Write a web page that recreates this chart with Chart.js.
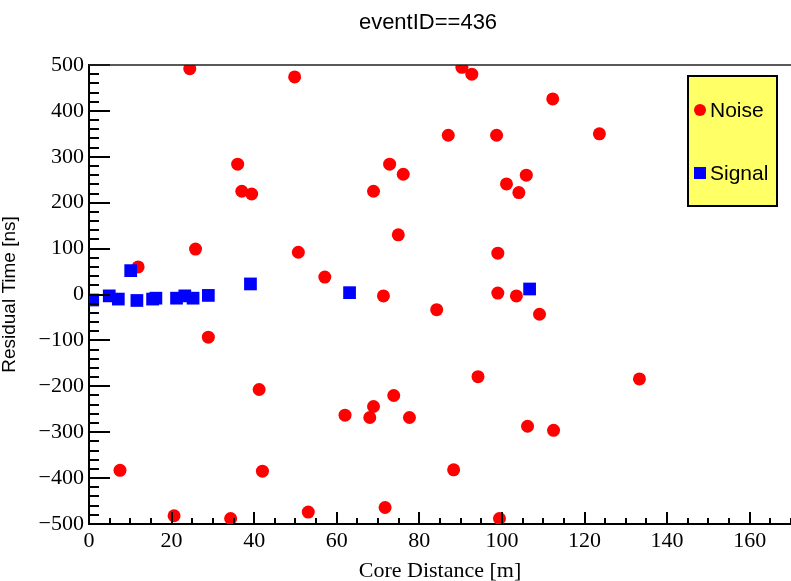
<!DOCTYPE html>
<html>
<head>
<meta charset="utf-8">
<script src="https://cdn.jsdelivr.net/npm/chart.js@4"></script>
<style>
  body { margin: 0; background: #fff; }
  #wrap { width: 791px; height: 581px; }
</style>
</head>
<body>
<div id="wrap"><canvas id="myChart"></canvas></div>
<script>
// datos
var titulo = 'eventID==436';

var noiseX = [24.4, 49.8, 90.3, 92.7, 112.3, 123.6, 87.0, 98.7, 36.0, 37.0, 39.4, 72.8, 76.1, 68.9,
  101.1, 105.9, 104.1, 74.9, 25.8, 50.7, 99.0, 11.9, 57.1, 71.3, 99.0, 103.5, 84.2, 109.1, 28.9,
  94.2, 133.3, 41.2, 73.8, 68.9, 62.0, 68.0, 77.6, 106.2, 112.5, 7.5, 42.0, 88.3, 71.7, 53.1,
  20.6, 34.3, 99.4];
var noiseY = [492, 474, 495, 480, 426, 350, 347, 347, 284, 225, 219, 284, 262, 225,
  241, 260, 222, 130, 99, 92, 90, 60, 38, -3, 3, -3, -33, -43, -93,
  -179, -184, -207, -220, -244, -263, -268, -268, -287, -296, -383, -385, -382, -464, -474,
  -482, -488, -488];

var signalX = [0.9, 4.9, 7.1, 10.1, 11.6, 15.4, 16.2, 21.2, 23.2, 25.2, 28.9, 39.1, 63.1, 106.7];
var signalY = [-12, -3, -10, 52, -13, -10, -8, -8, -3, -8, -2, 23, 4, 12];

var xTicks = [0, 20, 40, 60, 80, 100, 120, 140, 160];
var yTicks = [-500, -400, -300, -200, -100, 0, 100, 200, 300, 400, 500];

function toPoints(xs, ys) {
  return xs.map(function (x, i) { return { x: x, y: ys[i] }; });
}

// ejes estilo ROOT: ticks hacia dentro + marco superior
var rootAxes = {
  id: 'rootAxes',
  afterDraw: function (chart) {
    var ctx = chart.ctx;
    var xs = chart.scales.x, ys = chart.scales.y;
    var a = chart.chartArea;
    ctx.save();
    ctx.strokeStyle = '#000';
    ctx.lineWidth = 2;
    for (var v = -500; v <= 500; v += 20) {
      var py = Math.round(ys.getPixelForValue(v));
      var len = (v % 100 === 0) ? 21 : 10;
      ctx.beginPath();
      ctx.moveTo(a.left, py);
      ctx.lineTo(a.left + len, py);
      ctx.stroke();
    }
    for (var u = 0; u <= 170; u += 5) {
      var px = Math.round(xs.getPixelForValue(u));
      var l = (u % 20 === 0) ? 12 : 6;
      ctx.beginPath();
      ctx.moveTo(px, a.bottom);
      ctx.lineTo(px, a.bottom - l);
      ctx.stroke();
    }
    // marco superior
    ctx.lineWidth = 1.5;
    ctx.strokeStyle = '#222';
    ctx.beginPath();
    ctx.moveTo(a.left, a.top);
    ctx.lineTo(a.right, a.top);
    ctx.stroke();

    // titulo
    ctx.fillStyle = '#000';
    ctx.font = '22px "Liberation Sans", Arial, sans-serif';
    ctx.textAlign = 'center';
    ctx.textBaseline = 'middle';
    ctx.fillText(titulo, 428, 23);

    // leyenda
    var bx = 688, by = 76, bw = 89, bh = 130;
    ctx.fillStyle = '#ffff66';
    ctx.fillRect(bx, by, bw, bh);
    ctx.lineWidth = 2;
    ctx.strokeStyle = '#000';
    ctx.strokeRect(bx, by, bw, bh);
    ctx.font = '21px "Liberation Sans", Arial, sans-serif';
    ctx.textAlign = 'left';
    var rows = [110, 173];
    chart.data.datasets.forEach(function (ds, i) {
      var cy = rows[i];
      ctx.fillStyle = ds.backgroundColor;
      if (ds.pointStyle === 'rect') {
        ctx.fillRect(bx + 6, cy - 6, 12, 12);
      } else {
        ctx.beginPath();
        ctx.arc(bx + 12, cy, 6, 0, Math.PI * 2);
        ctx.fill();
      }
      ctx.fillStyle = '#000';
      ctx.fillText(ds.label, bx + 22, cy + 1);
    });
    ctx.restore();
  }
};

var ctx = document.getElementById('myChart').getContext('2d');
var myChart = new Chart(ctx, {
  type: 'scatter',
  data: {
    datasets: [{
      label: 'Noise',
      data: toPoints(noiseX, noiseY),
      backgroundColor: '#ff0000',
      borderWidth: 0,
      pointStyle: 'circle',
      pointRadius: 6.5,
      order: 2
    }, {
      label: 'Signal',
      data: toPoints(signalX, signalY),
      backgroundColor: '#0000ff',
      borderWidth: 0,
      pointStyle: 'rect',
      pointRadius: 9,
      order: 1
    }]
  },
  options: {
    responsive: true,
    maintainAspectRatio: false,
    animation: false,
    layout: { autoPadding: false, padding: { top: 65, right: 0, bottom: 0, left: 0 } },
    plugins: {
      legend: { display: false },
      tooltip: { enabled: false }
    },
    scales: {
      x: {
        type: 'linear',
        min: 0,
        max: 170,
        afterFit: function (s) {
          s.height = 57;
          s.paddingLeft = 0;
          s.paddingRight = 0;
        },
        afterBuildTicks: function (s) {
          s.ticks = xTicks.map(function (v) { return { value: v }; });
        },
        grid: { display: false, drawTicks: false },
        border: { display: true, color: '#000', width: 2 },
        ticks: {
          padding: 4,
          color: '#000',
          maxRotation: 0,
          autoSkip: false,
          font: { family: '"Liberation Serif", "Times New Roman", serif', size: 22 }
        },
        title: {
          display: true,
          text: 'Core Distance [m]',
          color: '#000',
          padding: 0,
          font: { family: '"Liberation Serif", "Times New Roman", serif', size: 22, lineHeight: 0.9 }
        }
      },
      y: {
        type: 'linear',
        min: -500,
        max: 500,
        afterFit: function (s) {
          s.width = 89;
          s.paddingTop = 0;
          s.paddingBottom = 0;
        },
        afterBuildTicks: function (s) {
          s.ticks = yTicks.map(function (v) { return { value: v }; });
        },
        grid: { display: false, drawTicks: false },
        border: { display: true, color: '#000', width: 2 },
        ticks: {
          padding: 5,
          color: '#000',
          autoSkip: false,
          font: { family: '"Liberation Serif", "Times New Roman", serif', size: 22 },
          callback: function (v) { return String(v).replace('-', '\u2212'); }
        },
        title: {
          display: true,
          text: 'Residual Time [ns]',
          color: '#000',
          padding: 0,
          font: { family: '"Liberation Sans", Arial, sans-serif', size: 19, lineHeight: 1 }
        }
      }
    }
  },
  plugins: [rootAxes]
});
</script>
</body>
</html>
